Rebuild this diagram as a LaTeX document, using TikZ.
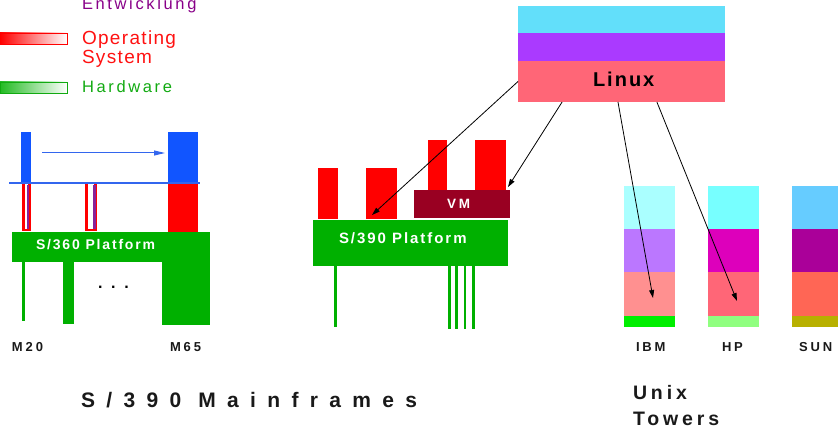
\documentclass[tikz,border=0pt]{standalone}
\usepackage{fontspec}
\setmainfont{Liberation Sans}
\usetikzlibrary{arrows.meta,calc}
\newfontfamily\fLegA[LetterSpace=16]{Liberation Sans}
\newfontfamily\fLegB[LetterSpace=7]{Liberation Sans}
\newfontfamily\fLab[LetterSpace=22]{Liberation Sans}
\newfontfamily\fPlat[LetterSpace=13]{Liberation Sans}
\newfontfamily\fLinux[LetterSpace=10]{Liberation Sans}
\newfontfamily\fBig[LetterSpace=54]{Liberation Sans}
\newfontfamily\fUnix[LetterSpace=20]{Liberation Sans}
\newfontfamily\fDots[LetterSpace=55]{Liberation Sans}
\definecolor{cGreen}{HTML}{00B000}
\definecolor{cRed}{HTML}{FF0000}
\definecolor{cBlue}{HTML}{1155FF}
\definecolor{cBlueLine}{HTML}{3366EE}
\definecolor{cPurpleU}{HTML}{882299}
\definecolor{cVM}{HTML}{990022}
\definecolor{cLegPurple}{HTML}{880088}
\definecolor{cLegRed}{HTML}{FF1111}
\definecolor{cLegGreen}{HTML}{11AA11}
\definecolor{cLegGreenFill}{HTML}{22BB22}
\definecolor{lxCyan}{HTML}{62DFFA}
\definecolor{lxPurple}{HTML}{AA3AFF}
\definecolor{lxPink}{HTML}{FF6677}
\definecolor{ibA}{HTML}{AAFFFF}
\definecolor{ibB}{HTML}{BB77FF}
\definecolor{ibC}{HTML}{FF9090}
\definecolor{ibD}{HTML}{00EE00}
\definecolor{hpA}{HTML}{77FFFF}
\definecolor{hpB}{HTML}{DD00BB}
\definecolor{hpC}{HTML}{FF6677}
\definecolor{hpD}{HTML}{90FF80}
\definecolor{snA}{HTML}{66CCFF}
\definecolor{snB}{HTML}{AA0099}
\definecolor{snC}{HTML}{FF6655}
\definecolor{snD}{HTML}{B8B000}
\begin{document}
\begin{tikzpicture}[x=1pt,y=-1pt,
  blk/.style={inner sep=0pt, outer sep=0pt, anchor=north west, draw=none},
  txt/.style={inner sep=0pt, outer sep=0pt, anchor=base west},
  lab/.style={txt, text=black!90, font=\fLab\bfseries\fontsize{13}{15}\selectfont},
  plat/.style={txt, text=white, font=\fPlat\bfseries\fontsize{15}{17}\selectfont},
  conn/.style={black, line width=0.8pt, -{Triangle[length=8pt,width=5pt]}}]
\useasboundingbox (0,0) rectangle (838,430);

% ---------- Legend ----------
\node[txt, text=cLegPurple, font=\fLegA\fontsize{16.5}{18}\selectfont] (tEnt) at (82,10) {Entwicklung};
\node[blk, draw=cRed, line width=0.8pt, left color=cRed, right color=white, minimum width=67, minimum height=11] (legRed) at (0,33) {};
\node[txt, text=cLegRed, font=\fLegB\fontsize{19}{21}\selectfont] (tOp) at (82,45) {Operating};
\node[txt, text=cLegRed, font=\fLegB\fontsize{19}{21}\selectfont] (tSys) at (82,64) {System};
\node[blk, draw=cLegGreen, line width=0.8pt, left color=cLegGreenFill, right color=white, minimum width=67, minimum height=11] (legGreen) at (0,82) {};
\node[txt, text=cLegGreen, font=\fLegA\fontsize{16.5}{18}\selectfont] (tHw) at (82,93) {Hardware};

% ---------- S/360 group ----------
\node[blk, fill=cBlue, minimum width=10, minimum height=51] (bl1) at (21,132) {};
\node[blk, fill=cBlue, minimum width=30, minimum height=51] (bl2) at (168,132) {};
\node[blk, fill=cRed, minimum width=30, minimum height=49] (rd65) at (168,183) {};
\coordinate (ba1) at (42,153);
\coordinate (ba2) at (165,153);
\draw[cBlueLine, line width=1pt, -{Triangle[length=11pt,width=5pt]}] (ba1) -- (ba2);
\coordinate (bh1) at (9,183);
\coordinate (bh2) at (200,183);
\draw[cBlueLine, line width=1.6pt] (bh1) -- (bh2);
\draw[cRed, line width=2.2pt] (23.5,184) -- (23.5,230) -- (29.5,230) -- (29.5,184);
\draw[cPurpleU, line width=2.6pt] (28,185) -- (28,229.5);
\draw[cRed, line width=2.5pt] (86.5,184) -- (86.5,230) -- (95.5,230) -- (95.5,184);
\draw[cPurpleU, line width=3.4pt] (94.2,185) -- (94.2,229.5);
\node[blk, fill=cGreen, minimum width=198, minimum height=30] (p360) at (12,232) {};
\node[blk, fill=cGreen, minimum width=3, minimum height=60] (leg1) at (22,261) {};
\node[blk, fill=cGreen, minimum width=11, minimum height=63] (leg2) at (63,261) {};
\node[blk, fill=cGreen, minimum width=48, minimum height=64] (leg3) at (162,261) {};
\node[plat, font=\fPlat\bfseries\fontsize{14}{16}\selectfont] (t360) at (36,250) {S/360 Platform};
\node[txt, font=\fDots\bfseries\fontsize{16}{18}\selectfont] (dots) at (98,289) {...};
\node[lab] (tM20) at (12,352) {M20};
\node[lab] (tM65) at (170,352) {M65};

% ---------- S/390 group ----------
\node[blk, fill=cRed, minimum width=20, minimum height=51] (r1) at (318,168) {};
\node[blk, fill=cRed, minimum width=31, minimum height=51] (r2) at (366,168) {};
\node[blk, fill=cRed, minimum width=19, minimum height=50] (r3) at (428,140) {};
\node[blk, fill=cRed, minimum width=31, minimum height=50] (r4) at (475,140) {};
\node[blk, fill=cVM, minimum width=96, minimum height=28] (vm) at (414,190) {};
\node[txt, text=white, font=\fLab\bfseries\fontsize{13.5}{15}\selectfont] (tVM) at (447,209) {VM};
\node[blk, fill=cGreen, minimum width=195, minimum height=46] (p390) at (313,220) {};
\node[plat] (t390) at (339,244) {S/390 Platform};
\node[blk, fill=cGreen, minimum width=2.6, minimum height=62] (lg1) at (334.2,265) {};
\node[blk, fill=cGreen, minimum width=2.6, minimum height=64] (lg2) at (448.2,265) {};
\node[blk, fill=cGreen, minimum width=2.6, minimum height=64] (lg3) at (455.2,265) {};
\node[blk, fill=cGreen, minimum width=2.6, minimum height=64] (lg4) at (463.7,265) {};
\node[blk, fill=cGreen, minimum width=2.6, minimum height=64] (lg5) at (472.2,265) {};

% ---------- Linux stack ----------
\node[blk, fill=lxCyan, minimum width=207, minimum height=27] (lxA) at (518,6) {};
\node[blk, fill=lxPurple, minimum width=207, minimum height=28] (lxB) at (518,33) {};
\node[blk, fill=lxPink, minimum width=207, minimum height=41] (linux) at (518,61) {};
\node[txt, font=\fLinux\bfseries\fontsize{20}{22}\selectfont] (tLinux) at (593,87) {Linux};

% ---------- Unix towers ----------
\node[blk, fill=ibA, minimum width=51, minimum height=43] (ib1) at (624,186) {};
\node[blk, fill=ibB, minimum width=51, minimum height=43] (ib2) at (624,229) {};
\node[blk, fill=ibC, minimum width=51, minimum height=44] (ib3) at (624,272) {};
\node[blk, fill=ibD, minimum width=51, minimum height=11] (ib4) at (624,316) {};
\node[blk, fill=hpA, minimum width=51, minimum height=43] (hp1) at (708,186) {};
\node[blk, fill=hpB, minimum width=51, minimum height=43] (hp2) at (708,229) {};
\node[blk, fill=hpC, minimum width=51, minimum height=44] (hp3) at (708,272) {};
\node[blk, fill=hpD, minimum width=51, minimum height=11] (hp4) at (708,316) {};
\node[blk, fill=snA, minimum width=50, minimum height=43] (sn1) at (792,186) {};
\node[blk, fill=snB, minimum width=50, minimum height=43] (sn2) at (792,229) {};
\node[blk, fill=snC, minimum width=50, minimum height=44] (sn3) at (792,272) {};
\node[blk, fill=snD, minimum width=50, minimum height=11] (sn4) at (792,316) {};
\node[lab] (tIBM) at (636,352) {IBM};
\node[lab] (tHP) at (722,352) {HP};
\node[lab] (tSUN) at (799,352) {SUN};

% ---------- connectors ----------
\coordinate (e1) at (372,215);
\coordinate (e2) at (508,187);
\coordinate (e3) at (653,298);
\coordinate (e4) at (737,301);
\draw[conn] (linux.west) -- (e1);
\draw[conn] ($(linux.south west)!0.213!(linux.south east)$) -- (e2);
\draw[conn] ($(linux.south west)!0.483!(linux.south east)$) -- (e3);
\draw[conn] ($(linux.south west)!0.671!(linux.south east)$) -- (e4);

% ---------- titles ----------
\node[txt, text=black!90, font=\fBig\bfseries\fontsize{21}{23}\selectfont] (tMain) at (81,407) {S/390 Mainframes};
\node[txt, text=black!90, font=\fUnix\bfseries\fontsize{19.5}{22}\selectfont] (tUnix) at (633,399) {Unix};
\node[txt, text=black!90, font=\fUnix\bfseries\fontsize{19.5}{22}\selectfont] (tTow) at (633,425) {Towers};
\end{tikzpicture}
\end{document}
